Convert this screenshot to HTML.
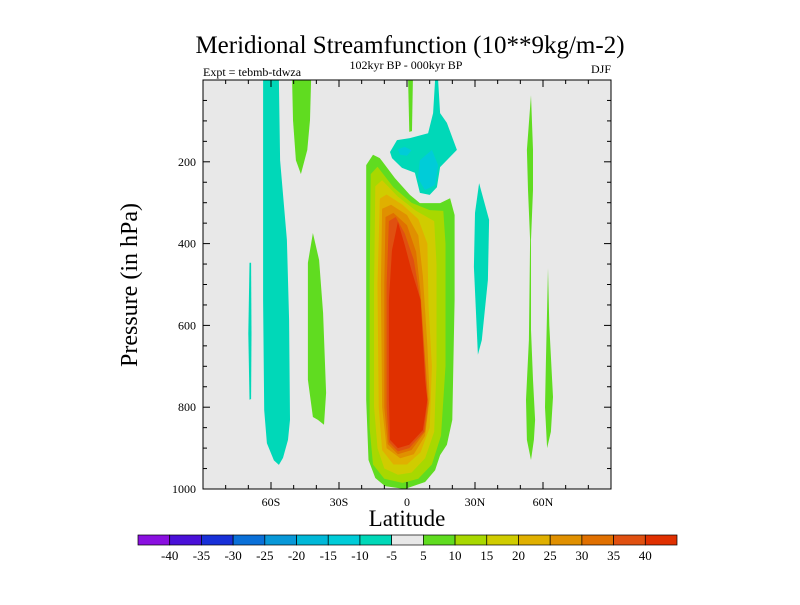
<!DOCTYPE html>
<html><head><meta charset="utf-8"><style>
body{margin:0;background:#fff;}
svg text{font-family:"Liberation Serif",serif;}
</style></head><body>
<svg id="chart" width="800" height="600" viewBox="0 0 800 600" xmlns="http://www.w3.org/2000/svg">
<text x="410" y="53" font-size="25" text-anchor="middle">Meridional Streamfunction (10**9kg/m-2)</text>
<text x="203" y="76" font-size="12">Expt = tebmb-tdwza</text>
<text x="406" y="69" font-size="12" text-anchor="middle">102kyr BP - 000kyr BP</text>
<text x="611" y="73" font-size="12" text-anchor="end">DJF</text>
<text transform="translate(137,285) rotate(-90)" font-size="24" text-anchor="middle">Pressure (in hPa)</text>
<text x="407" y="526" font-size="23" text-anchor="middle">Latitude</text>
<g id="plot"></g>
<g id="cbar"></g>
</svg>
<script>
const levels=[-40,-35,-30,-25,-20,-15,-10,-5,5,10,15,20,25,30,35,40];
const colors=["#8a10e0","#4a10d8","#1830d8","#0a70d8","#0898d8","#00b8d8","#00ccd8","#00d8b8","#e8e8e8","#60dc20","#a8d800","#d0cc00","#e0b000","#e09000","#e07000","#e05010","#e03000"];
const xTicks=[-60,-30,0,30,60];
const xTickLabels=["60S","30S","0","30N","60N"];
const yTicks=[200,400,600,800,1000];
// contour regions: [level value, points as [lat, pressure]]
const regionValues=[5,10,15,20,25,30,35,40,-5,-10,-10,5,-5,-5,5,5,-5,5,5];
const regionShapes=[
[[-18,208],[-15,183],[-12,191],[-5.3,240],[1.3,281],[5.7,301],[14.6,301],[19,289],[21,330],[21,538],[20,831],[17.6,892],[14.6,917],[12.4,954],[8,983],[-1,1000],[-9.7,993],[-14,973],[-17,929],[-18,782],[-18,416]],
[[-16,230],[-13,212],[-6,262],[2,300],[10,318],[16,320],[17,400],[17,700],[15,870],[11,940],[5,975],[-2,985],[-10,975],[-15,940],[-16.5,850],[-16.5,500]],
[[-14,260],[-11,245],[-4,285],[4,320],[12,345],[13,450],[13,700],[12,860],[8,925],[2,960],[-4,965],[-10,950],[-13,900],[-14.5,800],[-14.5,500]],
[[-12,290],[-9,280],[-2,305],[5,340],[9,400],[9.5,550],[11,700],[10,850],[6,910],[0,940],[-6,940],[-11,905],[-12.5,800],[-13,500]],
[[-11,315],[-7,305],[0,330],[5,380],[7,480],[9,650],[10,780],[8,870],[3,915],[-3,925],[-9,900],[-11,800],[-11.5,500]],
[[-9.5,335],[-6,325],[0,355],[4,420],[6,520],[8,680],[9.5,790],[8,860],[2,905],[-4,915],[-8.5,890],[-10,800],[-10,500]],
[[-8,345],[-5,335],[-1,375],[3,440],[6,540],[8,700],[9,790],[7.5,860],[1,900],[-4,908],[-8,885],[-9,800],[-9,500]],
[[-4,347],[-1,403],[2,465],[6,538],[8,733],[9,782],[7,856],[1,892],[-4,900],[-7.5,880],[-8,782],[-8,538],[-6.6,416]],
[[-7.5,176],[-4.4,147],[1.3,142],[9.3,130],[11.5,81],[12.4,0],[13.7,0],[14.6,81],[17.6,105],[22,171],[14.6,213],[13.2,262],[10,281],[5.7,276],[3.5,227],[-2.2,215],[-6.6,191]],
[[-4,170],[-1,163],[2,172],[0,185],[-3,183]],
[[5.7,196],[11,171],[13.7,208],[12.4,257],[7.9,269],[4.8,240]],
[[0.5,0],[2.6,0],[2.2,125],[1,127]],
[[-63.5,0],[-56.5,0],[-56,196],[-53,391],[-52,587],[-51.6,831],[-52.5,880],[-54.7,924],[-56.5,941],[-58.7,930],[-61.8,888],[-63,807],[-63.5,538]],
[[-69.5,447],[-68.8,447],[-68.6,620],[-68.8,780],[-69.5,782],[-70,620]],
[[-50.7,0],[-42.3,0],[-42.8,98],[-44,171],[-46.8,230],[-49,196],[-50.3,98]],
[[-41.5,374],[-38.8,440],[-37,570],[-35.7,765],[-36.6,843],[-39.3,831],[-41.5,824],[-43.7,733],[-43.7,447]],
[[31.8,252],[36.2,342],[35.7,489],[33,636],[31.3,672],[29.5,457],[30,325]],
[[54.7,37],[55.6,171],[55.6,269],[54.7,391],[54.7,611],[55.6,733],[56.5,831],[56,880],[54.7,929],[52.9,880],[52.5,782],[53.8,636],[54.3,391],[53.4,269],[52.9,171]],
[[62.2,460],[62.8,600],[64.4,775],[63.5,860],[61.8,900],[60.9,800],[61.3,690],[61.8,560]]
];
const X0=203,X1=611,Y0=80,Y1=489;
const xs=lat=>X0+(lat+90)/180*(X1-X0);
const ys=p=>Y0+p/1000*(Y1-Y0);
function colorFor(v){let i=0;while(i<levels.length&&v>levels[i])i++;if(v>0&&v<=levels[i])return colors[i];return colors[Math.min(i,colors.length-1)];}
function colorOf(v){ // value within (lo,hi]
 for(let i=0;i<levels.length;i++){if(v<levels[i])return colors[i];} return colors[colors.length-1];}
const NS="http://www.w3.org/2000/svg";
const plot=document.getElementById('plot');
function mk(t,a,parent){const e=document.createElementNS(NS,t);for(const k in a)e.setAttribute(k,a[k]);parent.appendChild(e);return e;}
const bg=mk('rect',{x:X0,y:Y0,width:X1-X0,height:Y1-Y0,fill:"#e8e8e8"},plot);


regionShapes.forEach((pts,i)=>{
 const v=regionValues[i];
 const c=v>0?colorOf(v+0.01):colorOf(v-0.01);
 const poly=mk('polygon',{points:pts.map(p=>xs(p[0]).toFixed(1)+","+ys(p[1]).toFixed(1)).join(" "),fill:c},plot);
 
 
});
const frame=mk('rect',{x:X0,y:Y0,width:X1-X0,height:Y1-Y0,fill:"none",stroke:"#000","stroke-width":1},plot);


for(let lat=-80;lat<=80;lat+=10){
 const maj=lat%30===0,L=maj?7:4,x=xs(lat);
 const t1=mk('line',{x1:x,x2:x,y1:Y1,y2:Y1-L,stroke:"#000"},plot);
 
 
 const t2=mk('line',{x1:x,x2:x,y1:Y0,y2:Y0+L,stroke:"#000"},plot);
 
 
}
xTicks.forEach((v,i)=>{const t=mk('text',{x:xs(v),y:Y1+17,'font-size':12,'text-anchor':'middle'},plot);t.textContent=xTickLabels[i];
 
 });
for(let p=50;p<1000;p+=50){
 const maj=p%200===0,L=maj?7:4,y=ys(p);
 const t1=mk('line',{x1:X0,x2:X0+L,y1:y,y2:y,stroke:"#000"},plot);
 
 
 const t2=mk('line',{x1:X1,x2:X1-L,y1:y,y2:y,stroke:"#000"},plot);
 
 
}
yTicks.forEach(v=>{const t=mk('text',{x:X0-7,y:ys(v)+4,'font-size':12,'text-anchor':'end'},plot);t.textContent=v;
 
 });
const cb=document.getElementById('cbar');
const CX0=138,CX1=677,CY=535,CH=10,bw=(CX1-CX0)/colors.length;
colors.forEach((c,i)=>{const r=mk('rect',{x:CX0+i*bw,y:CY,width:bw,height:CH,fill:c,stroke:"#000","stroke-width":0.7},cb);
 
 });
levels.forEach((v,i)=>{const t=mk('text',{x:CX0+(i+1)*bw,y:CY+25,'font-size':13,'text-anchor':'middle'},cb);t.textContent=v;
 
 });
</script>
</body></html>
